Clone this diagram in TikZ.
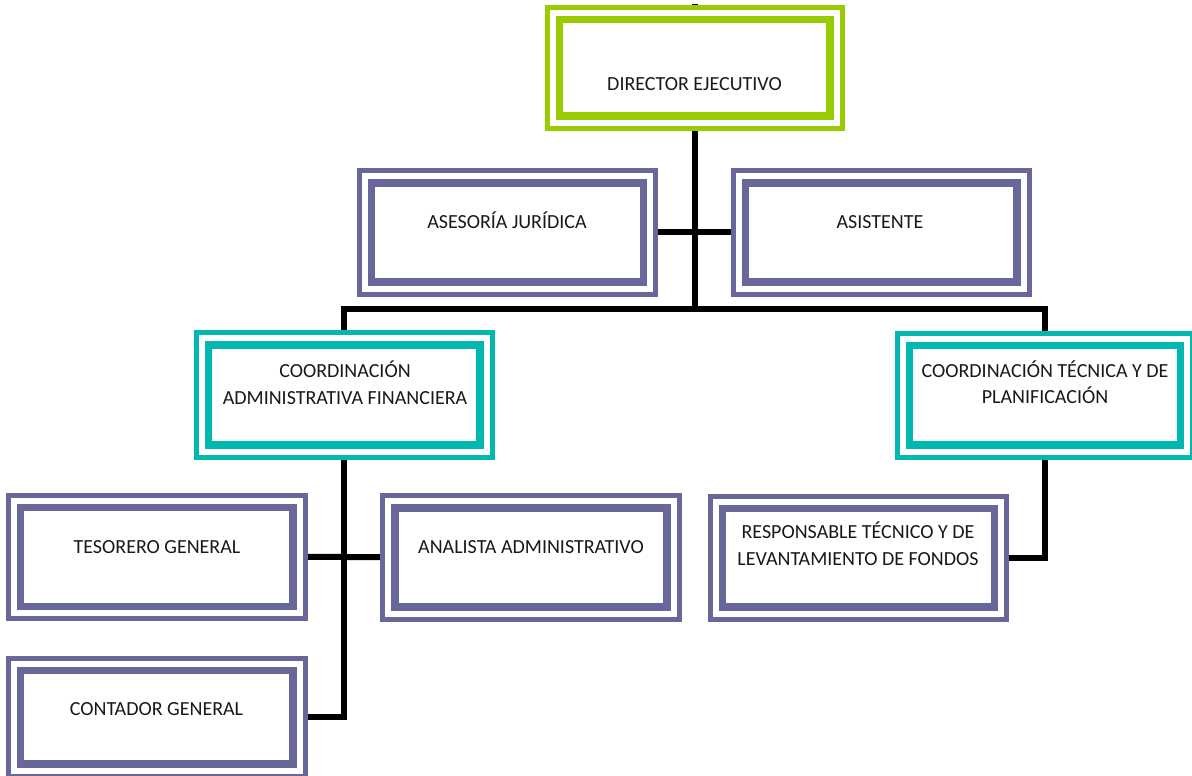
\documentclass[tikz,border=0pt]{standalone}
\usepackage{fontspec}
\setmainfont{Carlito}
\definecolor{dirgreen}{HTML}{99CC00}
\definecolor{coordteal}{HTML}{00B8B0}
\definecolor{unitpurple}{HTML}{676799}
\tikzset{
  dbox/.style={draw=#1, double=white, line width=5pt, double distance=6pt,
    line join=miter, rectangle, inner sep=0pt, fill=none},
  lbl/.style={font=\fontsize{20}{26.5}\selectfont, text=black!90, anchor=base, inner sep=0pt, align=center},
  conn/.style={draw=black, line width=6pt, line join=miter},
}
\begin{document}
\begin{tikzpicture}[x=1pt,y=-1pt]
\useasboundingbox (0,0) rectangle (1192,776);
\fill[white] (0,0) rectangle (1192,776);
\coordinate (topstub) at (694.5,4);
\coordinate (j1) at (694.5,308.5);
% boxes
\node[dbox=dirgreen, minimum width=279pt, minimum height=104.5pt] (dir) at (694.5,67.75) {};
\node[dbox=unitpurple, minimum width=280.5pt, minimum height=107.5pt] (ase) at (507.25,232.25) {};
\node[dbox=unitpurple, minimum width=280pt, minimum height=107.5pt] (asi) at (881,232.25) {};
\node[dbox=coordteal, minimum width=280pt, minimum height=108.5pt] (cadm) at (344,394.75) {};
\node[dbox=coordteal, minimum width=279.5pt, minimum height=108pt] (ctec) at (1044.75,395) {};
\node[dbox=unitpurple, minimum width=281pt, minimum height=107.5pt] (tes) at (156.5,556.75) {};
\node[dbox=unitpurple, minimum width=280.5pt, minimum height=107.5pt] (ana) at (530.75,557.25) {};
\node[dbox=unitpurple, minimum width=280.5pt, minimum height=107pt] (resp) at (858.25,557.5) {};
\node[dbox=unitpurple, minimum width=281pt, minimum height=102pt] (cont) at (156.5,717) {};
% connectors
\draw[conn] (topstub) -- (dir.north);
\draw[conn] (dir.south) -- (j1);
\draw[conn] (ase.east) -- (asi.west);
\draw[conn] (cadm.north) |- (j1) -| (ctec.north);
\draw[conn] (cadm.south) |- (cont.east);
\draw[conn] (tes.east) -- (ana.west);
\draw[conn] (ctec.south) |- (resp.east);
% redraw box borders over connector ends
\foreach \n/\c in {dir/dirgreen,ase/unitpurple,asi/unitpurple,cadm/coordteal,ctec/coordteal,tes/unitpurple,ana/unitpurple,resp/unitpurple,cont/unitpurple}{
  \draw[dbox=\c] (\n.north west) rectangle (\n.south east);
}
% texts
\node[lbl] (tdir) at (694.5,91) {DIRECTOR EJECUTIVO};
\node[lbl] (tase) at (507,228) {ASESORÍA JURÍDICA};
\node[lbl] (tasi) at (880,228) {ASISTENTE};
\node[lbl] (tcadm) at (345,404) {COORDINACIÓN\\ADMINISTRATIVA FINANCIERA};
\node[lbl] (tctec) at (1045,403.5) {COORDINACIÓN TÉCNICA Y DE\\PLANIFICACIÓN};
\node[lbl] (ttes) at (157,553) {TESORERO GENERAL};
\node[lbl] (tana) at (531,553) {ANALISTA ADMINISTRATIVO};
\node[lbl] (tresp) at (858,565) {RESPONSABLE TÉCNICO Y DE\\LEVANTAMIENTO DE FONDOS};
\node[lbl] (tcont) at (156.5,715) {CONTADOR GENERAL};
\end{tikzpicture}
\end{document}
